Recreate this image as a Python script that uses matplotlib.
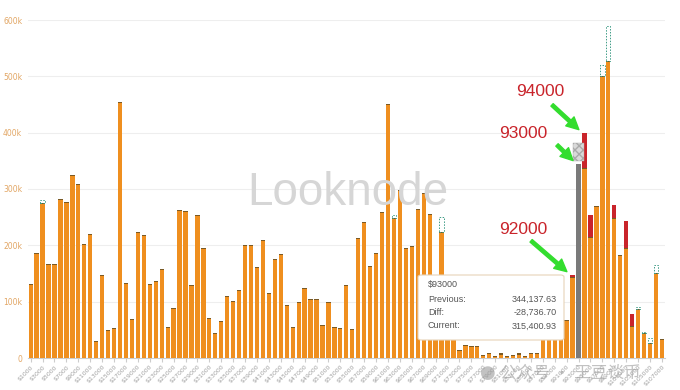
import matplotlib.pyplot as plt
from matplotlib.patches import FancyArrowPatch, FancyBboxPatch, Rectangle

# price levels, one bar per $1000
prices = list(range(1000, 108000, 1000))
current_k = [131, 186, 280, 167, 167, 282, 277, 325, 309, 202,
             220, 30, 147, 50, 53, 454, 133, 69, 224, 218,
             131, 136, 158, 55, 89, 263, 261, 130, 254, 195,
             71, 44, 66, 110, 102, 121, 200, 200, 162, 210,
             115, 176, 185, 94, 55, 100, 125, 105, 105, 58,
             99, 55, 53, 130, 51, 213, 242, 163, 186, 259,
             451, 253, 298, 196, 198, 264, 293, 256, 120, 250,
             90, 90, 14, 23, 22, 22, 5, 9, 4, 8,
             4, 5, 8, 4, 9, 9, 60, 60, 60, 60,
             67, 143, 315, 337, 215, 270, 520, 589, 248, 182,
             195, 56, 90, 47, 36, 165, 33]
# previous snapshot where it differs from current (thousands)
previous_k = {3000: 275, 62000: 248, 70000: 224, 92000: 147, 93000: 344,
              94000: 399, 95000: 254, 97000: 501, 98000: 527, 99000: 272,
              101000: 243, 102000: 78, 103000: 87, 104000: 44, 105000: 27,
              106000: 151}
highlight = 93000
tip_rows = [("Previous:", "344,137.63"), ("Diff:", "-28,736.70"), ("Current:", "315,400.93")]
marks = [(92000, "92000"), (93000, "93000"), (94000, "94000")]

ORANGE = '#ef8f1f'
RED = '#c9242b'
W, H = 680, 390

fig = plt.figure(figsize=(6.8, 3.9), dpi=100)
ax = fig.add_axes([27.7 / W, 32 / H, 637.2 / W, 338 / H])

xs = list(range(len(prices)))
bw = 0.72
for i, p in enumerate(prices):
    cur = current_k[i] * 1000
    prev = previous_k.get(p, current_k[i]) * 1000
    low, high = min(cur, prev), max(cur, prev)
    if p == highlight:
        ax.bar(i, high, width=bw, color='#7a7a7a', zorder=3)
        continue
    ax.bar(i, low, width=bw, color=ORANGE, zorder=3)
    ax.bar(i, 1800, bottom=low - 1800, width=bw, color='#7a5a25', zorder=3)
    if cur < prev:
        ax.bar(i, high - low, bottom=low, width=bw, color=RED, zorder=3)
    elif cur > prev:
        ax.bar(i, high - low, bottom=low, width=bw, facecolor='none',
               edgecolor='#3e9c86', linestyle=(0, (1.5, 1.5)), linewidth=0.7, zorder=3)

ax.set_xlim(-0.5, len(prices) - 0.5)
ax.set_ylim(0, 600000)
ax.set_yticks(range(0, 600001, 100000))
ax.set_yticklabels(['0'] + ['%dk' % (v // 1000) for v in range(100000, 600001, 100000)])
ax.set_xticks(xs[::2])
ax.set_xticklabels(['$%d' % p for p in prices[::2]], rotation=45, ha='right',
                   rotation_mode='anchor', fontsize=4.5, color='#a0a0a0')
ax.tick_params(axis='y', length=0, labelsize=5.5, labelcolor='#e2a664', pad=4)
ax.tick_params(axis='x', length=3, color='#cccccc', pad=1.5)
ax.grid(axis='y', color='#eeeeee', linewidth=0.8, zorder=0)
for s in ['top', 'right', 'left']:
    ax.spines[s].set_visible(False)
ax.spines['bottom'].set_color('#cccccc')

# watermark
fig.text(348 / W, 1 - 193 / H, 'Looknode', fontsize=33, color='#d6d6d6',
         family='Liberation Sans', ha='center', va='center', zorder=1)

# small masked label above highlighted bar
hi = prices.index(highlight)
ax.add_patch(Rectangle((hi - 0.9, 350000), 1.8, 32000, facecolor='#d9d9d9',
                       edgecolor='#aaaaaa', hatch='xxxx', linewidth=0.3, zorder=5))

# tooltip
fig.patches.append(FancyBboxPatch((418 / W, 1 - 340 / H), 146 / W, 65 / H,
                                  boxstyle='round,pad=0,rounding_size=0.005',
                                  transform=fig.transFigure, facecolor='white',
                                  edgecolor='#e6d3b8', linewidth=0.8, zorder=10))
fig.text(428 / W, 1 - 285 / H, '$%d' % highlight, fontsize=6.5, color='#555555',
         family='Liberation Sans', va='center', zorder=11)
for r, (lab, val) in enumerate(tip_rows):
    y = 1 - (299 + 13.5 * r) / H
    fig.text(428 / W, y, lab, fontsize=6.5, color='#555555', family='Liberation Sans',
             va='center', zorder=11)
    fig.text(557 / W, y, val, fontsize=6.5, color='#555555', family='Liberation Sans',
             va='center', ha='right', zorder=11)

# red price callouts with green arrows
text_pos = {92000: (523, 229), 93000: (523, 133), 94000: (540, 92)}
arrow_from = {92000: (529, 239), 93000: (555, 143), 94000: (550, 103)}
for p, lab in marks:
    tx, ty = text_pos[p]
    fig.text(tx / W, 1 - ty / H, lab, fontsize=12.5, color=RED, family='Liberation Sans',
             ha='center', va='center', zorder=12)
    i = prices.index(p)
    top = max(current_k[i], previous_k.get(p, current_k[i])) * 1000
    ax_, ay_ = arrow_from[p]
    start = fig.transFigure.inverted().transform((ax_, H - ay_))
    arr = FancyArrowPatch(start, (i - 0.6, top + 3000), transform=None,
                          arrowstyle='simple,head_width=2.2,head_length=2.2,tail_width=0.6',
                          mutation_scale=4, color='#33dd2e', zorder=12)
    arr.set_positions(fig.transFigure.transform(start), ax.transData.transform((i - 0.6, top + 3000)))
    fig.patches.append(arr)

# wechat style watermark
fig.text(488 / W, 1 - 373 / H, '●', fontsize=13, color='#9a9a9a', alpha=0.6,
         ha='center', va='center', zorder=13)
fig.text(500 / W, 1 - 373 / H, '公众号 · 王豆谈币', fontsize=12, color='#9a9a9a', alpha=0.6,
         family=['Noto Sans CJK SC', 'DejaVu Sans'], va='center', zorder=13)

fig.savefig('out.png', dpi=100)
